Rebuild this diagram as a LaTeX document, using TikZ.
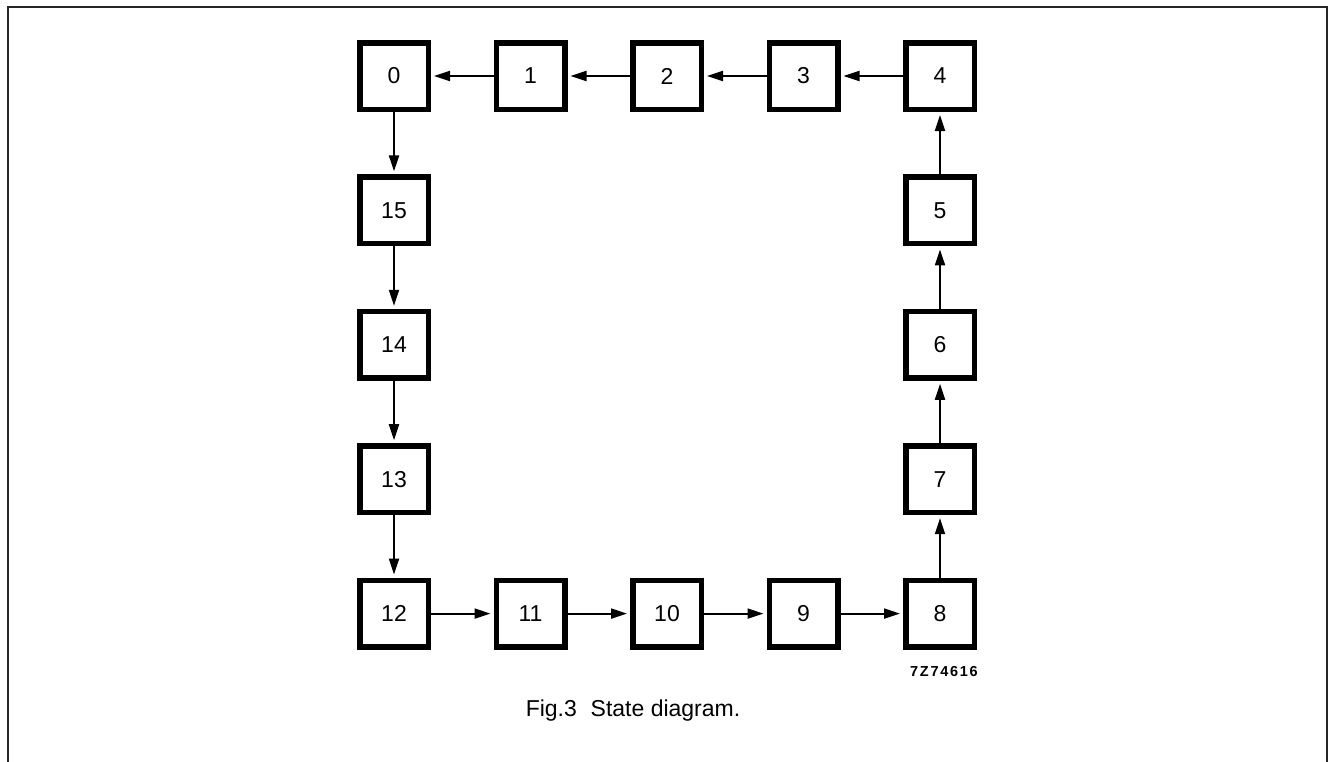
\documentclass[tikz,border=0pt]{standalone}
\usepackage{fontspec}
\setmainfont{Liberation Sans}
\newfontfamily\codefont[LetterSpace=12]{Liberation Sans Bold}
\usetikzlibrary{arrows.meta}
\begin{document}
\begin{tikzpicture}[x=1pt,y=-1pt,
  state/.style={draw=black,line width=5.5pt,minimum width=68.5pt,minimum height=66.5pt,inner sep=0pt,
    font=\fontsize{23}{27}\selectfont},
  flow/.style={line width=2pt,-{Triangle[length=16pt,width=10pt]},shorten >=3pt}]
\useasboundingbox (0,0) rectangle (1329,761);
\draw[line width=2pt,color=black!85] (8,770) -- (8,7) -- (1327,7) -- (1327,770);
% top row
\node[state] (n0) at (394,76) {0};
\node[state] (n1) at (530.5,76) {1};
\node[state] (n2) at (667,76) {2};
\node[state] (n3) at (803.5,76) {3};
\node[state] (n4) at (940,76) {4};
% right column
\node[state] (n5) at (940,210.4) {5};
\node[state] (n6) at (940,344.8) {6};
\node[state] (n7) at (940,479.2) {7};
\node[state] (n8) at (940,613.6) {8};
% bottom row
\node[state] (n9) at (803.5,613.6) {9};
\node[state] (n10) at (667,613.6) {10};
\node[state] (n11) at (530.5,613.6) {11};
\node[state] (n12) at (394,613.6) {12};
% left column
\node[state] (n13) at (394,479.2) {13};
\node[state] (n14) at (394,344.8) {14};
\node[state] (n15) at (394,210.4) {15};
% connectors
\draw[flow] (n4) -- (n3);
\draw[flow] (n3) -- (n2);
\draw[flow] (n2) -- (n1);
\draw[flow] (n1) -- (n0);
\draw[flow] (n0) -- (n15);
\draw[flow] (n15) -- (n14);
\draw[flow] (n14) -- (n13);
\draw[flow] (n13) -- (n12);
\draw[flow] (n12) -- (n11);
\draw[flow] (n11) -- (n10);
\draw[flow] (n10) -- (n9);
\draw[flow] (n9) -- (n8);
\draw[flow] (n8) -- (n7);
\draw[flow] (n7) -- (n6);
\draw[flow] (n6) -- (n5);
\draw[flow] (n5) -- (n4);
% labels
\node[anchor=east,inner sep=0pt,font=\codefont\fontsize{14.5}{16}\selectfont] (code) at (978,671) {7Z74616};
\node[inner sep=0pt,font=\fontsize{23}{27}\selectfont] (cap) at (633,711) {Fig.3\hspace{0.6em}State diagram.};
\end{tikzpicture}
\end{document}
